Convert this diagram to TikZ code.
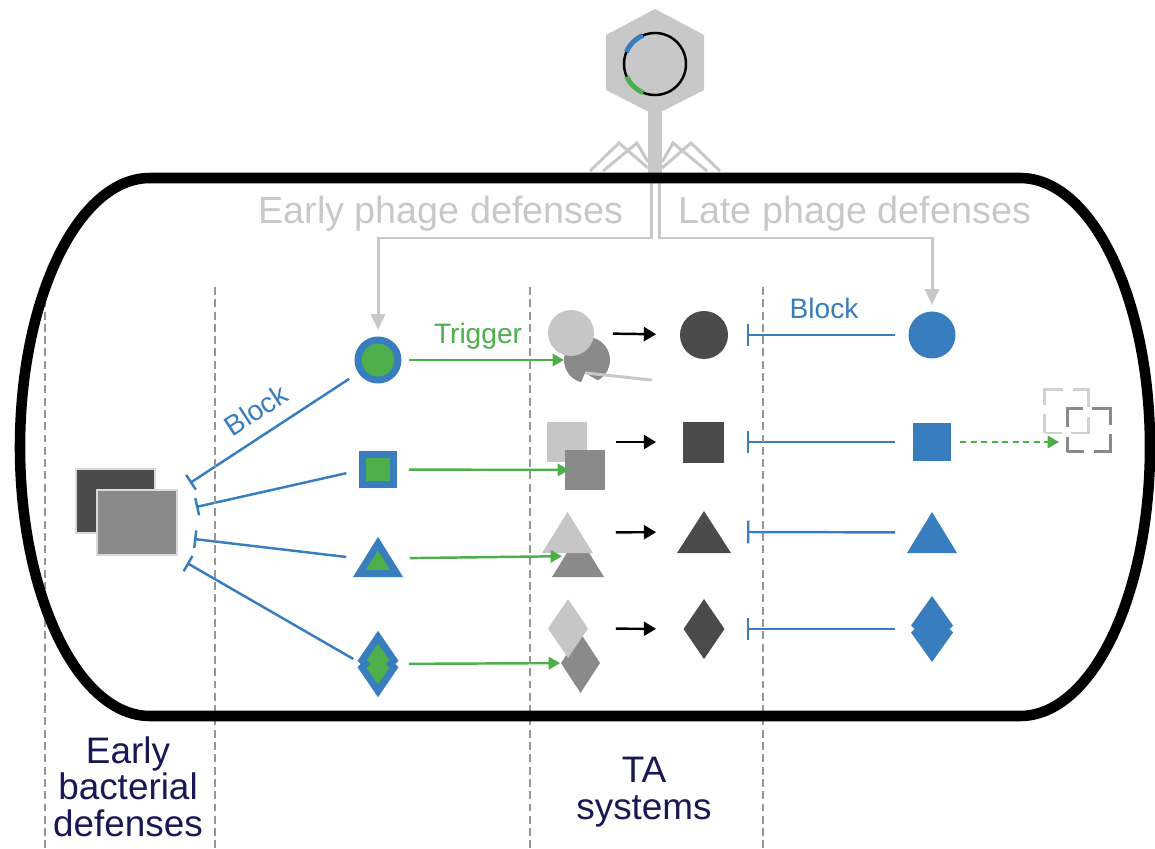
\documentclass[tikz,border=0pt]{standalone}
\usepackage{fontspec}
\setmainfont{Liberation Sans}
\usetikzlibrary{calc, arrows.meta}

\definecolor{phgray}{RGB}{200,200,200}
\definecolor{ltgray}{RGB}{198,198,198}
\definecolor{mdgray}{RGB}{138,138,138}
\definecolor{dkgray}{RGB}{75,75,75}
\definecolor{divgray}{RGB}{150,150,150}
\definecolor{dblue}{RGB}{56,125,189}
\definecolor{dgreen}{RGB}{76,175,74}
\definecolor{navy}{RGB}{24,24,84}

\tikzset{
  shp/.style={inner sep=0pt, outer sep=0pt},
  early/.style={shp, draw=dblue, fill=dgreen, line width=0.14cm},
  trig/.style={dgreen, line width=1.4pt, -{Triangle[length=6.5pt, width=7pt]}},
  act/.style={black, line width=1.4pt, -{Triangle[length=7pt, width=8pt]}},
  blk/.style={dblue, line width=1.4pt, -{Bar[width=10pt]}},
  phg/.style={phgray, line width=1.7pt, -{Triangle[length=9pt, width=8pt]}},
  div/.style={divgray, line width=1.1pt, dash pattern=on 4.5pt off 2.5pt},
  ghost/.style={shp, draw, line width=1.7pt, dash pattern=on 0.68cm off 0.19cm, dash phase=0.34cm},
  ttl/.style={text=phgray, font=\fontsize{21.5}{25}\selectfont, inner sep=0pt},
  bot/.style={text=navy, font=\fontsize{21}{21}\selectfont, align=center, inner sep=0pt},
  lbl/.style={font=\fontsize{16}{19}\selectfont, inner sep=0pt},
}

% 以節點外框畫三角形與菱形
\newcommand{\trishape}[2]{\path[#1] (#2.south west) -- (#2.north) -- (#2.south east) -- cycle;}
\newcommand{\diamshape}[2]{\path[#1] (#2.north) -- (#2.east) -- (#2.south) -- (#2.west) -- cycle;}
\newcommand{\notchdiam}[2]{\path[#1] (#2.north) -- ($(#2.east)+(0,-3.5)$) -- ($(#2.east)+(-3.5,0)$)
  -- ($(#2.east)+(0,3.5)$) -- (#2.south) -- ($(#2.west)+(0,3.5)$) -- ($(#2.west)+(3.5,0)$)
  -- ($(#2.west)+(0,-3.5)$) -- cycle;}

\begin{document}
\begin{tikzpicture}[x=0.02cm, y=-0.02cm]
    \useasboundingbox (0,0) rectangle (1155,848);

    % --- 1. 噬菌體 (頭部, DNA, 尾部) ---
    \fill[phgray] (655,9) -- (704,35) -- (704,90) -- (655,115) -- (606,90) -- (606,35) -- cycle;
    \node[shp, fill=phgray, minimum width=0.28cm, minimum height=1.36cm] (tail) at (655,146) {};
    \draw[phgray, line width=1.7pt] (590,171) -- (619,143) -- (648,168) (603,171) -- (637,143) -- (648,162);
    \draw[phgray, line width=1.7pt] (720,171) -- (691,143) -- (662,168) (707,171) -- (673,143) -- (662,162);
    \coordinate (dna) at (655,64);
    \draw[black, line width=1.4pt] (dna) circle[radius=31];
    \draw[dblue, line width=2.8pt] (dna) ++(-113:31) arc[start angle=-113, end angle=-157, radius=31];
    \draw[dgreen, line width=2.8pt] (dna) ++(112:31) arc[start angle=112, end angle=156, radius=31];

    % --- 2. 早期噬菌體防禦 ---
    \node[early, circle, minimum size=0.8cm] (e1) at (378,360) {};
    \node[early, minimum size=0.61cm] (e2) at (378,469.5) {};
    \node[shp, minimum width=0.75cm, minimum height=0.6cm] (e3) at (378,558.5) {};
    \trishape{early}{e3}
    \node[shp, minimum width=0.64cm, minimum height=1.08cm] (e4) at (378,664) {};
    \notchdiam{early}{e4}

    % --- 3. TA 系統 (毒素-抗毒素對) ---
    \node[shp, circle, minimum size=0.92cm] (d1) at (587,360) {};
    \fill[mdgray] (d1.center) ++(62:23) arc[start angle=62, end angle=-255, radius=23]
      -- ($(d1.center)+(-2,13)$) -- cycle;
    \draw[phgray, line width=1.7pt, line cap=round] ($(d1.center)+(-1,13)$) -- (651,380);
    \node[shp, circle, fill=ltgray, minimum size=0.92cm] (a1) at (571,333) {};

    \node[shp, fill=ltgray, minimum size=0.8cm] (a2) at (567,442) {};
    \node[shp, fill=mdgray, minimum size=0.8cm] (d2) at (585,470) {};

    \node[shp, minimum width=1.04cm, minimum height=0.84cm] (d3) at (578,556) {};
    \trishape{fill=mdgray}{d3}
    \node[shp, minimum width=1.02cm, minimum height=0.82cm] (a3) at (567.5,532.5) {};
    \trishape{fill=ltgray}{a3}

    \node[shp, minimum width=0.78cm, minimum height=1.2cm] (d4) at (580.5,663) {};
    \diamshape{fill=mdgray}{d4}
    \node[shp, minimum width=0.8cm, minimum height=1.18cm] (a4) at (568,628.5) {};
    \diamshape{fill=ltgray}{a4}

    % 活化後的毒素
    \node[shp, circle, fill=dkgray, minimum size=0.96cm] (t1) at (704,335) {};
    \node[shp, fill=dkgray, minimum size=0.82cm] (t2) at (703.5,442) {};
    \node[shp, minimum width=1.08cm, minimum height=0.84cm] (t3) at (704,532) {};
    \trishape{fill=dkgray}{t3}
    \node[shp, minimum width=0.82cm, minimum height=1.2cm] (t4) at (704,629) {};
    \diamshape{fill=dkgray}{t4}

    % --- 4. 晚期噬菌體防禦 ---
    \node[shp, circle, fill=dblue, minimum size=0.94cm] (l1) at (932,335) {};
    \node[shp, fill=dblue, minimum size=0.76cm] (l2) at (932,442) {};
    \node[shp, minimum width=1cm, minimum height=0.82cm] (l3) at (932,532.5) {};
    \trishape{fill=dblue}{l3}
    \node[shp, minimum width=0.84cm, minimum height=1.32cm] (l4) at (932,629) {};
    \notchdiam{fill=dblue}{l4}

    \node[ghost, draw=ltgray!80!white, minimum size=0.88cm] (q1) at (1066.5,411) {};
    \node[ghost, draw=mdgray, minimum size=0.86cm] (q2) at (1088.5,430) {};

    % --- 5. 早期細菌防禦 ---
    \node[shp, fill=dkgray, draw=white!85!black, line width=0.6pt,
          minimum width=1.58cm, minimum height=1.28cm] (bd1) at (115.5,501) {};
    \node[shp, fill=mdgray, draw=white!85!black, line width=0.6pt,
          minimum width=1.6cm, minimum height=1.3cm] (bd2) at (137,522.5) {};
    \coordinate (b1) at (190,483);
    \coordinate (b2) at (196,507);
    \coordinate (b3) at (194,539);
    \coordinate (b4) at (187,563);

    % --- 6. 箭頭與抑制線 ---
    \draw[phg, shorten >=5.7pt] (tail.south) ++(-4,0) -- ++(0,58) -| (e1.north);
    \draw[phg, shorten >=3.7pt] (tail.south) ++(4,0) -- ++(0,58) -| (l1.north);

    \draw[trig, shorten <=6.2pt] (e1) -- (d1);
    \draw[trig, shorten <=8.9pt, shorten >=-2.3pt] (e2) -- (d2);
    \draw[trig, shorten <=7.4pt, shorten >=-5.7pt] (e3) -- (d3);
    \draw[trig, shorten <=8.5pt, shorten >=0.5pt] (e4) -- (d4);
    \node[lbl, text=dgreen, anchor=base] at (478,343) {Trigger};

    \draw[act, shorten <=10.8pt, shorten >=13.6pt] (a1) -- (t1);
    \draw[act, shorten <=16.4pt, shorten >=15.3pt] (a2) -- (t2);
    \draw[act, shorten <=13pt, shorten >=11.9pt] (a3) -- (t3);
    \draw[act, shorten <=15.9pt, shorten >=15.6pt] (a4) -- (t4);

    \coordinate (tb1) at ($(t1)+(43,0)$);
    \coordinate (tb2) at ($(t2)+(43,0)$);
    \coordinate (tb3) at ($(t3)+(43,0)$);
    \coordinate (tb4) at ($(t4)+(43,0)$);
    \draw[blk, -{Bar[width=13pt]}, shorten <=7.7pt] (l1) -- (tb1);
    \draw[blk, -{Bar[width=13pt]}, shorten <=10.2pt] (l2) -- (tb2);
    \draw[blk, -{Bar[width=13pt]}, shorten <=6.8pt] (l3) -- (tb3);
    \draw[blk, -{Bar[width=13pt]}, shorten <=9pt] (l4) -- (tb4);
    \node[lbl, text=dblue, anchor=base] at (824,318) {Block};

    \draw[trig, dash pattern=on 3.5pt off 2.5pt, shorten <=5.1pt, shorten >=4.5pt] (l2.east) -- (l2.east -| q2.west);

    \draw[blk, shorten <=8.2pt] (e1) -- (b1);
    \draw[blk, shorten <=9.6pt] (e2.west) -- (b2);
    \draw[blk, shorten <=7.4pt] (e3.west) -- (b3);
    \draw[blk, shorten <=5.7pt] (e4.west) -- (b4);
    \node[lbl, text=dblue, rotate=33] at (256,410) {Block};

    % --- 7. 分隔虛線與細胞外框 ---
    \foreach \x in {45,215,530,763}
        \draw[div] (\x,287) -- (\x,848);
    \draw[black, line width=6pt] (150,178) -- (1020,178)
        arc[start angle=-90, end angle=90, x radius=130, y radius=269] -- (150,716)
        arc[start angle=90, end angle=270, x radius=130, y radius=269] -- cycle;

    % --- 8. 標籤 ---
    \node[ttl, anchor=base east] at (624,223) {Early phage defenses};
    \node[ttl, anchor=base west] at (678,223) {Late phage defenses};
    \node[bot, anchor=north] at (128,736) {Early\\bacterial\\defenses};
    \node[bot, anchor=north] at (644,757) {TA\\systems};
\end{tikzpicture}
\end{document}
